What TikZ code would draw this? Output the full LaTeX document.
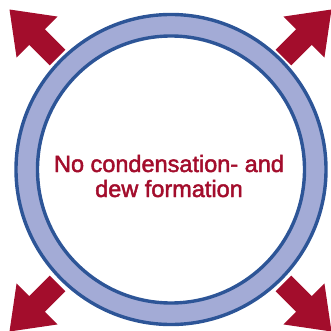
\documentclass[tikz,border=0pt]{standalone}
\usepackage{fontspec}
\setmainfont{Liberation Sans}
\newfontfamily\labelfont[FakeBold=2]{Liberation Sans}
\definecolor{arrowred}{HTML}{A30D2C}
\definecolor{ringfill}{HTML}{A3ABD6}
\definecolor{ringedge}{HTML}{2D5597}
\tikzset{
  bigarrow/.style={fill=arrowred, draw=none},
  ringline/.style={draw=ringedge, line width=3.4pt},
  label/.style={text=arrowred, font=\labelfont\fontsize{23.5}{25}\selectfont, anchor=base, inner sep=0pt}
}
\newcommand{\cornerarrow}[2]{%
  \fill[bigarrow, shift={#1}, rotate=#2]
    (0,0) -- (-39,29) -- (-39,11) -- (-68,11) -- (-68,-11) -- (-39,-11) -- (-39,-29) -- cycle;}
\begin{document}
\begin{tikzpicture}[x=1pt,y=-1pt]
\useasboundingbox (0,0) rectangle (331,331);
% ring
\fill[ringfill, even odd rule] (171,169.5) circle (155) (171,169.5) circle (133.5);
\draw[ringline] (171,169.5) circle (155);
\draw[ringline] (171,169.5) circle (133.5);
% arrows
\cornerarrow{(9.5,9.5)}{135}
\cornerarrow{(331.5,9.5)}{45}
\cornerarrow{(9.5,331.5)}{225}
\cornerarrow{(331.5,331.5)}{315}
% text
\node[label] (l1) at (169,172) {No condensation- and};
\node[label] (l2) at (169,197) {dew formation};
\end{tikzpicture}
\end{document}
